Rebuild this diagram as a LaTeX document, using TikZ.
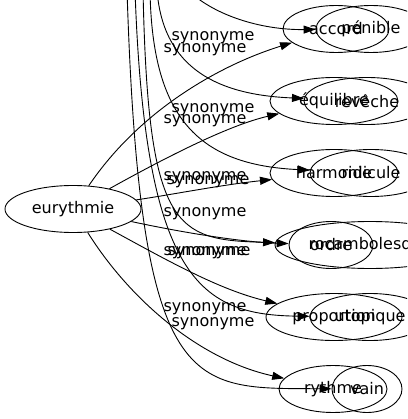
\documentclass[tikz,border=0pt]{standalone}
\usepackage{fontspec}
\setmainfont{DejaVu Sans}
\usetikzlibrary{shapes.geometric,arrows.meta}
\begin{document}
\begin{tikzpicture}[x=1pt, y=-1pt, line join=round, line width=0.9pt, >={Triangle[length=12pt,width=8pt]}]
 \tikzset{every node/.style={font=\fontsize{16}{19}\selectfont},
  word/.style={draw, ellipse, inner sep=0pt, minimum height=47pt},
  lbl/.style={inner sep=0pt}}
 \useasboundingbox (0,0) rectangle (407,419);
 \clip (0,0) rectangle (407,419);
 \node[word, minimum width=136pt] (eury) at (73,209) {eurythmie};
 \node[word, minimum width=106pt] (acc) at (336,29) {accord};
 \node[word, minimum width=110pt] (pen) at (371,29) {pénible};
 \node[word, minimum width=128pt] (equ) at (334,101) {équilibre};
 \node[word, minimum width=126pt] (rev) at (367,101) {revêche};
 \node[word, minimum width=128pt] (harm) at (334,173) {harmonie};
 \node[word, minimum width=122pt] (rid) at (371,173) {ridicule};
 \node[word, minimum width=84pt] (ord) at (331,245) {ordre};
 \node[word, minimum width=190pt] (roc) at (370,245) {rocambolesque};
 \node[word, minimum width=136pt] (prop) at (334,317) {proportion};
 \node[word, minimum width=120pt] (uto) at (370,317) {utopique};
 \node[word, minimum width=108pt] (ryth) at (333,389) {rythme};
 \node[word, minimum width=70pt] (vain) at (367,389) {vain};
 \coordinate (t1) at (190,-8);
 \coordinate (t2) at (157,-10);
 \coordinate (t3) at (150,-10);
 \coordinate (t4) at (143,-10);
 \coordinate (t5) at (135,-10);
 \coordinate (t6) at (127,-10);
 \draw[->] (eury) .. controls (140,110) and (220,65) .. (acc);
 \draw[->] (eury) .. controls (170,155) and (230,125) .. (equ);
 \draw[->] (eury) .. controls (170,195) and (220,185) .. (harm);
 \draw[->] (eury) .. controls (180,232) and (240,242) .. (ord);
 \draw[->] (eury) .. controls (170,262) and (220,290) .. (prop);
 \draw[->] (eury) .. controls (130,300) and (200,360) .. (ryth);
 \draw[->] (t1) .. controls (215,15) and (260,30) .. (pen);
 \draw[->] (t2) .. controls (163,70) and (220,95) .. (rev);
 \draw[->] (t3) .. controls (152,120) and (200,165) .. (rid);
 \draw[->] (t4) .. controls (148,230) and (175,240) .. (roc);
 \draw[->] (t5) .. controls (145,280) and (200,315) .. (uto);
 \draw[->] (t6) .. controls (140,400) and (190,388) .. (vain);
 \node[lbl] (l1) at (213,38) {synonyme};
 \node[lbl] (l2) at (205,50) {synonyme};
 \node[lbl] (l3) at (213,110) {synonyme};
 \node[lbl] (l4) at (205,121) {synonyme};
 \node[lbl] (l5) at (205,178) {synonyme};
 \node[lbl] (l6) at (208,182) {synonyme};
 \node[lbl] (l7) at (205,214) {synonyme};
 \node[lbl] (l8) at (205,253) {synonyme};
 \node[lbl] (l9) at (209,253) {synonyme};
 \node[lbl] (l10) at (205,309) {synonyme};
 \node[lbl] (l11) at (213,324) {synonyme};
\end{tikzpicture}
\end{document}
